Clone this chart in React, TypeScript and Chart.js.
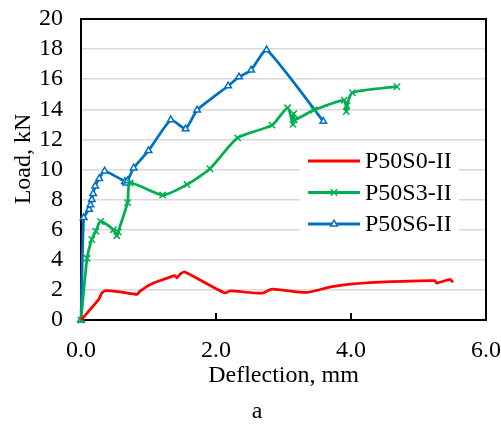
import React, { useEffect, useRef } from "react";
import { Chart, registerables } from "chart.js";

Chart.register(...registerables);

// ---- data ----
const seriesLabels = ["P50S0-II", "P50S3-II", "P50S6-II"];
const seriesColors = ["#FF0000", "#00B050", "#0070C0"];

const s0X = [0, 0.26, 0.31, 0.37, 0.6, 0.83, 0.87, 1.02, 1.39, 1.42, 1.47, 1.53, 2.13, 2.21, 2.68, 2.83, 3.34, 3.7, 4.03, 4.6, 5.24, 5.27, 5.47, 5.51];
const s0Y = [0, 1.35, 1.8, 1.95, 1.85, 1.7, 1.9, 2.35, 2.95, 2.8, 3.05, 3.2, 1.8, 1.93, 1.78, 2.05, 1.83, 2.2, 2.4, 2.55, 2.62, 2.45, 2.7, 2.5];

const s3X = [0, 0.09, 0.16, 0.22, 0.29, 0.48, 0.53, 0.55, 0.69, 0.73, 1.21, 1.57, 1.91, 2.32, 2.83, 3.06, 3.14, 3.15, 3.16, 3.45, 3.9, 3.93, 3.94, 4.02, 4.68];
const s3Y = [0, 4.1, 5.35, 5.9, 6.55, 6.0, 5.6, 5.85, 7.8, 9.1, 8.3, 9.0, 10.05, 12.1, 12.95, 14.1, 13.0, 13.7, 13.3, 13.95, 14.6, 13.85, 14.25, 15.1, 15.5];

const s6X = [0, 0.04, 0.12, 0.14, 0.16, 0.18, 0.21, 0.27, 0.35, 0.65, 0.67, 0.69, 0.78, 1.0, 1.33, 1.55, 1.72, 2.18, 2.34, 2.52, 2.75, 3.59];
const s6Y = [0, 6.8, 7.35, 7.65, 8.0, 8.4, 8.9, 9.4, 9.9, 9.2, 9.1, 9.25, 10.1, 11.25, 13.3, 12.7, 13.95, 15.55, 16.15, 16.6, 17.95, 13.2];

const xTickValues = [0, 2, 4, 6];
const yTickValues = [0, 2, 4, 6, 8, 10, 12, 14, 16, 18, 20];
const xTitle = "Deflection, mm";
const yTitle = "Load, kN";
const caption = "a";

const FONT = "'Liberation Serif', 'Times New Roman', serif";
const FS = 24;

const toPoints = (xs: number[], ys: number[]) => xs.map((x, i) => ({ x, y: ys[i] }));

const markerStyles = [false, "crossRot", "triangle"] as const;
const tensions = [0.2, 0.22, 0.15];

function drawMarker(ctx: CanvasRenderingContext2D, style: string | false, x: number, y: number, color: string) {
  if (!style) return;
  ctx.save();
  ctx.strokeStyle = color;
  ctx.lineWidth = 1.5;
  if (style === "crossRot") {
    const r = 4.5 * Math.cos(Math.PI / 4);
    ctx.beginPath();
    ctx.moveTo(x - r, y - r); ctx.lineTo(x + r, y + r);
    ctx.moveTo(x - r, y + r); ctx.lineTo(x + r, y - r);
    ctx.stroke();
  } else if (style === "triangle") {
    const r = 3.8;
    ctx.fillStyle = "#fff";
    ctx.beginPath();
    let a = -Math.PI / 2;
    ctx.moveTo(x + Math.cos(a) * r, y + Math.sin(a) * r);
    a += (2 * Math.PI) / 3;
    ctx.lineTo(x + Math.cos(a) * r, y + Math.sin(a) * r);
    a += (2 * Math.PI) / 3;
    ctx.lineTo(x + Math.cos(a) * r, y + Math.sin(a) * r);
    ctx.closePath();
    ctx.fill();
    ctx.stroke();
  }
  ctx.restore();
}

const framePlugin = {
  id: "frame",
  beforeDatasetsDraw(chart: any) {
    const { ctx, chartArea: a, scales } = chart;
    ctx.save();
    ctx.strokeStyle = "#000";
    ctx.lineWidth = 2;
    ctx.strokeRect(a.left, a.top, a.right - a.left, a.bottom - a.top);
    for (const v of xTickValues.slice(1, -1)) {
      const x = scales.x.getPixelForValue(v);
      ctx.beginPath();
      ctx.moveTo(x, a.bottom);
      ctx.lineTo(x, a.bottom - 7);
      ctx.stroke();
    }
    ctx.restore();
  },
};

const legendPlugin = {
  id: "customLegend",
  afterDatasetsDraw(chart: any) {
    const { ctx } = chart;
    ctx.save();
    ctx.fillStyle = "#fff";
    ctx.fillRect(300, 144, 159, 100);
    chart.data.datasets.forEach((ds: any, i: number) => {
      const y = 161 + i * 31.5;
      ctx.strokeStyle = ds.borderColor;
      ctx.lineWidth = 3;
      ctx.beginPath();
      ctx.moveTo(308, y);
      ctx.lineTo(360, y);
      ctx.stroke();
      drawMarker(ctx, markerStyles[i], 334, y, ds.borderColor);
      ctx.fillStyle = "#000";
      ctx.font = `${FS}px ${FONT}`;
      ctx.textAlign = "left";
      ctx.textBaseline = "middle";
      ctx.fillText(ds.label, 365, y + 1);
    });
    ctx.restore();
  },
  afterDraw(chart: any) {
    const { ctx } = chart;
    ctx.save();
    ctx.fillStyle = "#000";
    ctx.font = `${FS}px ${FONT}`;
    ctx.textAlign = "center";
    ctx.textBaseline = "alphabetic";
    ctx.fillText(caption, 257, 418);
    ctx.translate(24, 159);
    ctx.rotate(-Math.PI / 2);
    ctx.textBaseline = "middle";
    ctx.fillText(yTitle, 0, 0);
    ctx.restore();
  },
};

const zeroPad = (s: any) => {
  s.paddingTop = 0;
  s.paddingBottom = 0;
  s.paddingLeft = 0;
  s.paddingRight = 0;
};

export default function App() {
  const ref = useRef<HTMLCanvasElement | null>(null);

  useEffect(() => {
    document.body.style.margin = "0";
    const canvas = ref.current;
    if (!canvas) return;
    const raw = [toPoints(s0X, s0Y), toPoints(s3X, s3Y), toPoints(s6X, s6Y)];
    const chart = new Chart(canvas, {
      type: "line",
      data: {
        datasets: raw.map((pts, i) => ({
          label: seriesLabels[i],
          data: pts,
          borderColor: seriesColors[i],
          backgroundColor: i === 2 ? "#ffffff" : seriesColors[i],
          borderWidth: 2.75,
          tension: tensions[i],
          pointStyle: markerStyles[i] || "circle",
          pointRadius: i === 0 ? 0 : i === 1 ? 4.5 : 3.8,
          pointBorderWidth: 1.5,
          pointBorderColor: seriesColors[i],
          pointBackgroundColor: i === 2 ? "#ffffff" : seriesColors[i],
          clip: false as any,
          fill: false,
        })),
      },
      options: {
        animation: false,
        responsive: false,
        devicePixelRatio: 1,
        layout: { padding: { top: 19, right: 15, left: 0, bottom: 0 } },
        plugins: {
          legend: { display: false },
          tooltip: { enabled: false },
        },
        scales: {
          x: {
            type: "linear",
            min: 0,
            max: 6,
            afterBuildTicks: (s: any) => {
              s.ticks = xTickValues.map((v) => ({ value: v }));
            },
            afterFit: (s: any) => {
              s.height = 104;
              zeroPad(s);
            },
            grid: { display: false, drawTicks: false },
            border: { display: false },
            ticks: {
              color: "#000",
              font: { family: FONT, size: FS },
              padding: 16,
              maxRotation: 0,
              autoSkip: false,
              callback: (v: any) => Number(v).toFixed(1),
            },
            title: {
              display: true,
              text: xTitle,
              color: "#000",
              font: { family: FONT, size: FS },
              padding: { top: 0, bottom: 34 },
            },
          },
          y: {
            type: "linear",
            min: 0,
            max: 20,
            afterBuildTicks: (s: any) => {
              s.ticks = yTickValues.map((v) => ({ value: v }));
            },
            afterFit: (s: any) => {
              s.width = 81;
              zeroPad(s);
            },
            grid: {
              drawTicks: false,
              lineWidth: 1.5,
              color: (c: any) =>
                c.tick && (c.tick.value === 0 || c.tick.value === 20) ? "rgba(0,0,0,0)" : "#d9d9d9",
            },
            border: { display: false },
            ticks: {
              color: "#000",
              font: { family: FONT, size: FS },
              padding: 18,
              autoSkip: false,
            },
            title: { display: false },
          },
        },
      },
      plugins: [framePlugin, legendPlugin],
    });
    return () => chart.destroy();
  }, []);

  return (
    <div style={{ width: 501, height: 424 }}>
      <canvas ref={ref} width={501} height={424} style={{ display: "block" }} />
    </div>
  );
}
